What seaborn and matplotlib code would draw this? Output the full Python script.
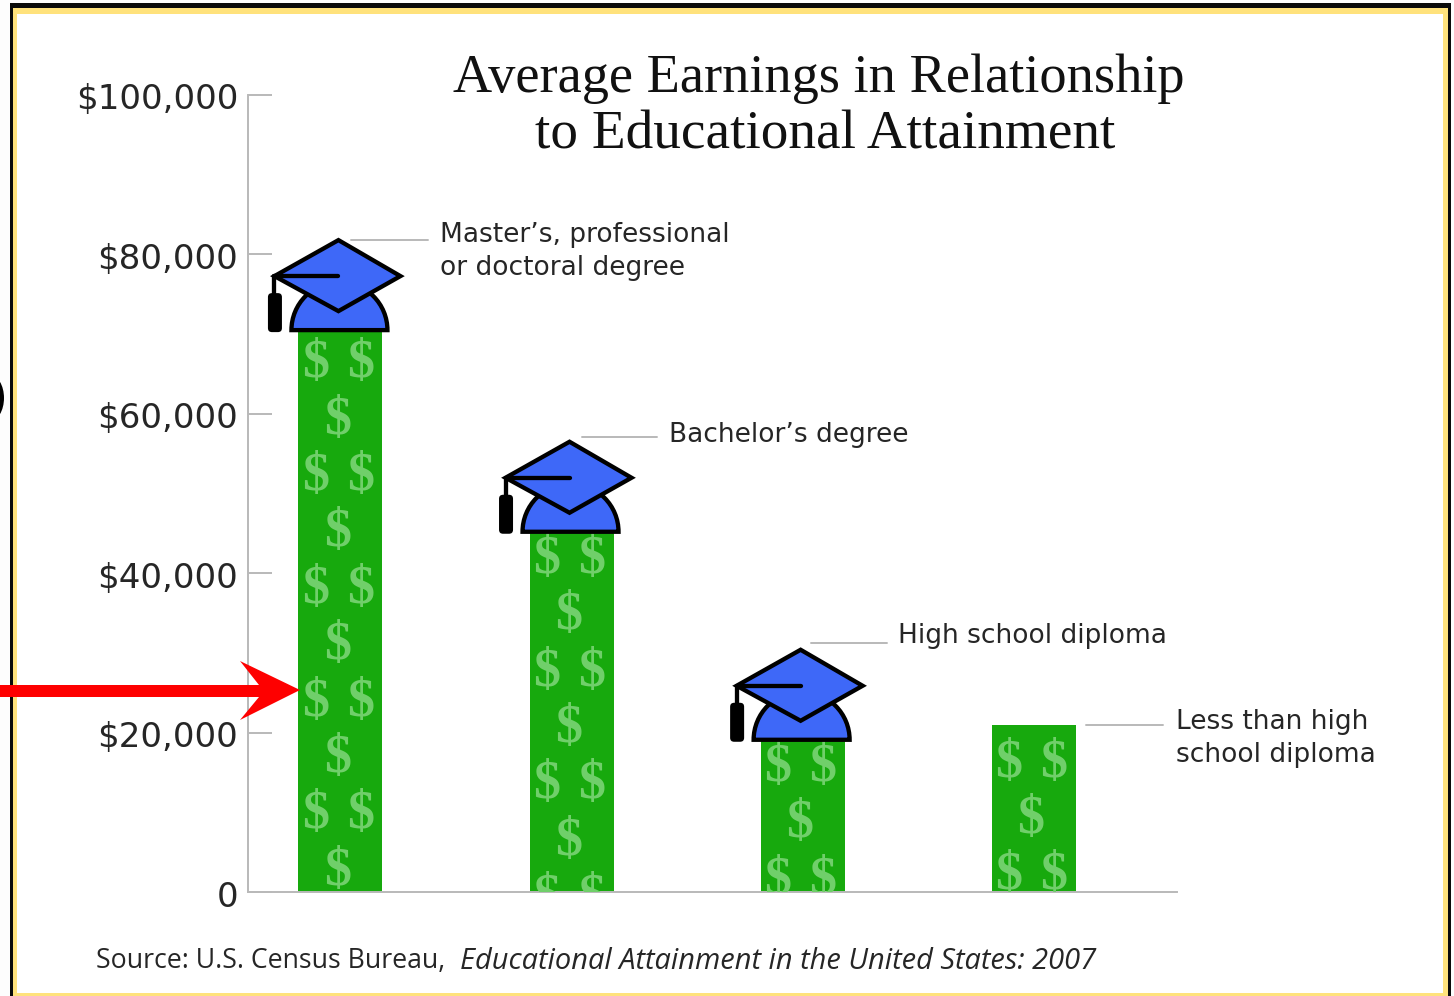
import matplotlib
matplotlib.use("Agg")
import matplotlib.pyplot as plt
from matplotlib.patches import Polygon, Rectangle, Wedge, FancyBboxPatch, Ellipse
from matplotlib.transforms import Affine2D, ScaledTranslation
import pandas as pd
import seaborn as sns

# Earnings by attainment level
levels = ["Master\u2019s, professional\nor doctoral degree", "Bachelor\u2019s degree",
          "High school diploma", "Less than high\nschool diploma"]
earnings = [70500, 45200, 19100, 21000]
y_ticks = [0, 20000, 40000, 60000, 80000, 100000]
y_tick_labels = ["0", "$20,000", "$40,000", "$60,000", "$80,000", "$100,000"]
title_lines = ["Average Earnings in Relationship", "to Educational Attainment"]
source_plain = "Source: U.S. Census Bureau,"
source_italic = "Educational Attainment in the United States: 2007"

W, H = 1454, 996
GREEN, PALE, BLUE = "#17a90d", "#70cf6a", "#3e68f8"
GREY, INK = "#b9b9b9", "#262626"

sns.set_theme(style="white")
plt.rcParams["font.family"] = ["DejaVu Sans"]

fig = plt.figure(figsize=(W / 100, H / 100), dpi=100, facecolor="#fdfdfd")

# Pixel-addressed layer behind the chart for the frame
back = fig.add_axes([0, 0, 1, 1], zorder=0)
back.set_xlim(0, W)
back.set_ylim(H, 0)
back.axis("off")
back.add_patch(Rectangle((10, 3), 1441, 1000, fc="#0a0a0a", ec="none"))
back.add_patch(Rectangle((13, 8), 1435, 1000, fc="#ffe27c", ec="none"))
back.add_patch(Rectangle((17, 14), 1426, 979, fc="white", ec="none"))
back.add_patch(Ellipse((-10, 398), 28, 46, fc="black", ec="none"))

ax = fig.add_axes([248 / W, (H - 892) / H, 929 / W, 797 / H], zorder=1)
ax.patch.set_alpha(0)

frame = pd.DataFrame({"level": levels, "earnings": earnings})
sns.barplot(data=frame, x="level", y="earnings", color=GREEN, saturation=1,
            width=84 / 231, linewidth=0, ax=ax)

ax.set_xlim(-0.4, 3.62)
ax.set_ylim(0, 100000)
ax.set_xlabel("")
ax.set_ylabel("")
ax.set_xticks([])
ax.set_yticks(y_ticks)
ax.set_yticklabels(y_tick_labels, fontsize=24.5, color=INK)
ax.tick_params(axis="y", direction="in", length=17.5, width=1.4, color=GREY,
               left=True, pad=7)
for label in ax.get_yticklabels():
    label.set_transform(label.get_transform() + Affine2D().translate(0, -1.5))
for side in ("top", "right"):
    ax.spines[side].set_visible(False)
for side in ("left", "bottom"):
    ax.spines[side].set_color(GREY)
    ax.spines[side].set_linewidth(1.4)


def anchored(x, y):
    """Transform taking pixel offsets to a point given in data coordinates."""
    return Affine2D() + ScaledTranslation(x, y, ax.transData)


def add_dollars(bar, first_drop):
    """Fill a bar with alternating rows of two and one dollar signs."""
    mid = bar.get_x() + bar.get_width() / 2
    row_step, side = 7077, 0.0975
    top = bar.get_height()
    y, row = top - first_drop, 0
    while y > -2800:
        columns = (-side, side) if row % 2 == 0 else (0,)
        for dx in columns:
            mark = ax.text(mid + dx - 0.012, y, "$", color=PALE, fontsize=39,
                           family="Liberation Serif", fontweight="bold",
                           ha="center", va="center", clip_on=True)
            mark.set_clip_path(bar)
        y -= row_step
        row += 1


def add_cap(x, y):
    """Draw a mortarboard resting on top of a bar."""
    t = anchored(x, y)
    lw = 3.1
    ax.add_patch(Wedge((-1, 0), 48, 0, 180, fc=BLUE, ec="black", lw=lw,
                       joinstyle="miter", transform=t, clip_on=False, zorder=4))
    ax.add_patch(Polygon([(-2, 90), (60, 54), (-2, 19), (-66, 54)], closed=True,
                         fc=BLUE, ec="black", lw=lw, joinstyle="miter",
                         transform=t, clip_on=False, zorder=5))
    ax.plot([-66, -2], [54, 54], color="black", lw=lw, transform=t,
            clip_on=False, zorder=6)
    ax.plot([-66, -66], [54, 34], color="black", lw=lw, transform=t,
            clip_on=False, zorder=6)
    ax.add_patch(FancyBboxPatch((-72.5, -2), 14, 39,
                                boxstyle="round,pad=0,rounding_size=4",
                                fc="black", ec="none", transform=t,
                                clip_on=False, zorder=6))


first_drops = [4264, 3511, 3511, 4890]
leader_spans = [(11, 88, 90), (10, 85, 95), (8, 84, 97), (52, 129, 0)]
label_offsets = [(99.5, 78.5), (97, 97), (95, 104), (142, -14)]

for i, (bar, value, name) in enumerate(zip(ax.patches, earnings, levels)):
    cx = bar.get_x() + bar.get_width() / 2
    add_dollars(bar, first_drops[i])
    if i < 3:
        add_cap(cx, value)
    t = anchored(cx, value)
    x0, x1, dy = leader_spans[i]
    ax.plot([x0, x1], [dy, dy], color=GREY, lw=1.4, transform=t, clip_on=False)
    lx, ly = label_offsets[i]
    ax.text(lx, ly, name, transform=t, fontsize=19, color=INK, ha="left",
            va="center", linespacing=1.38, clip_on=False)

# Pixel-addressed layer on top for the title, source line and arrow
front = fig.add_axes([0, 0, 1, 1], zorder=2)
front.set_xlim(0, W)
front.set_ylim(H, 0)
front.axis("off")
front.text(819, 92, title_lines[0], family="Liberation Serif", fontsize=39.2,
           color="#111111", ha="center", va="baseline")
front.text(825.5, 148, title_lines[1], family="Liberation Serif", fontsize=39.8,
           color="#111111", ha="center", va="baseline")
front.text(96, 961, source_plain, family="Open Sans", fontsize=19.2, color=INK,
           ha="left", va="center")
front.text(460, 961, source_italic, family="Open Sans", style="italic", fontsize=20.9,
           color=INK, ha="left", va="center")
front.add_patch(Polygon([(0, 685), (259, 685), (240, 661), (300, 690), (240, 720),
                         (259, 697), (0, 697)], closed=True, fc="#fe0000", ec="none"))

fig.savefig("out.png", dpi=100, facecolor=fig.get_facecolor())
